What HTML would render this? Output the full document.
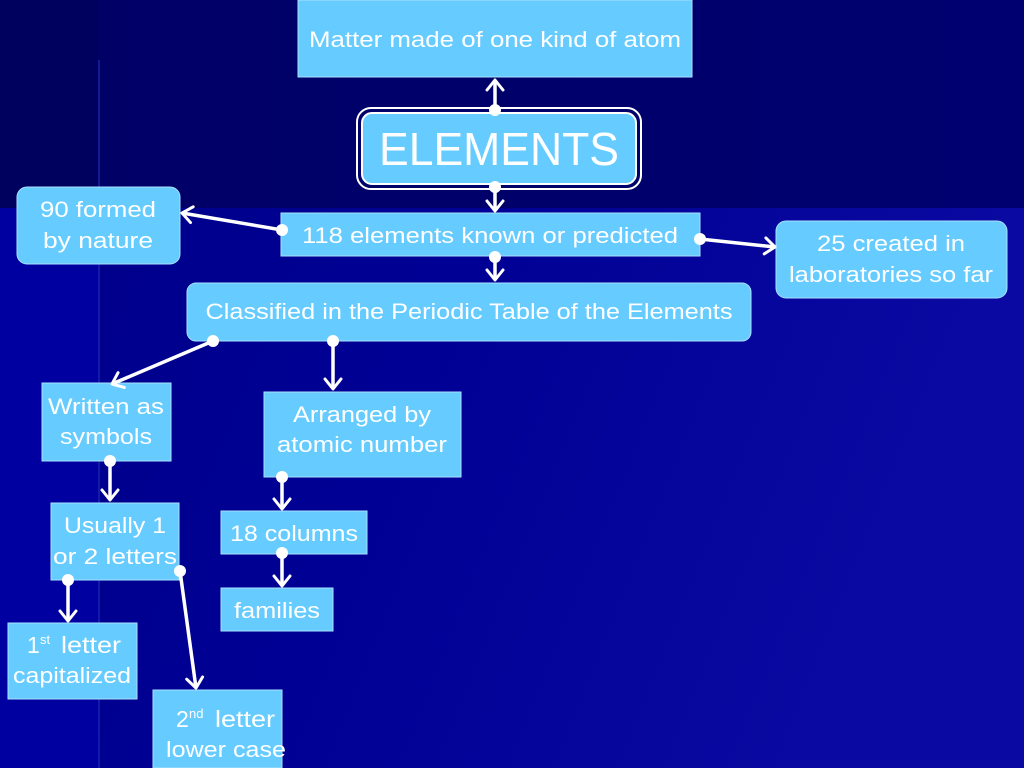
<!DOCTYPE html>
<html><head><meta charset="utf-8"><style>
html,body{margin:0;padding:0;width:1024px;height:768px;overflow:hidden;background:#000080}
svg{display:block}
text{font-family:"Liberation Sans",sans-serif;fill:#fff}
</style></head><body>
<svg width="1024" height="768" viewBox="0 0 1024 768" xmlns="http://www.w3.org/2000/svg">
<defs>
<linearGradient id="bot" x1="0" y1="0" x2="1" y2="0.3">
<stop offset="0" stop-color="#000088"/><stop offset="0.5" stop-color="#000094"/><stop offset="1" stop-color="#0a0aa2"/></linearGradient>
<linearGradient id="top" x1="0" y1="0" x2="1" y2="0">
<stop offset="0" stop-color="#000066"/><stop offset="1" stop-color="#000070"/></linearGradient>
<marker id="ah" viewBox="0 0 20 20" refX="17" refY="10" markerWidth="20" markerHeight="20" markerUnits="userSpaceOnUse" orient="auto">
<path d="M7,2 L17,10 L7,18" fill="none" stroke="#fff" stroke-width="3" stroke-linecap="round" stroke-linejoin="round"/></marker>
</defs>
<rect x="0" y="0" width="1024" height="768" fill="url(#bot)"/>
<rect x="0" y="0" width="1024" height="208" fill="url(#top)"/>
<rect x="0" y="208" width="98" height="560" fill="#0000a0"/>
<rect x="0" y="0" width="98" height="208" fill="#00005e"/>
<line x1="99" y1="60" x2="99" y2="768" stroke="#3344dd" stroke-width="1.5" opacity="0.5"/>

<g fill="#66ccff" stroke="#a8e0ff" stroke-width="1">
<rect x="298" y="0" width="394" height="77"/>
<rect x="281" y="213" width="419" height="43"/>
<rect x="17" y="187" width="163" height="77" rx="10"/>
<rect x="776" y="221" width="231" height="77" rx="10"/>
<rect x="187" y="283" width="564" height="58" rx="9"/>
<rect x="42" y="383" width="129" height="78"/>
<rect x="264" y="392" width="197" height="85"/>
<rect x="51" y="503" width="128" height="77"/>
<rect x="221" y="511" width="146" height="43"/>
<rect x="221" y="588" width="112" height="43"/>
<rect x="8" y="623" width="129" height="76"/>
<rect x="153" y="690" width="129" height="78"/>
</g>
<rect x="357" y="108" width="284" height="81" rx="14" fill="none" stroke="#fff" stroke-width="2"/>
<rect x="362" y="113" width="274" height="71" rx="10" fill="#66ccff" stroke="#fff" stroke-width="2"/>

<g font-size="22">
<text x="495" y="47" text-anchor="middle" textLength="372" lengthAdjust="spacingAndGlyphs">Matter made of one kind of atom</text>
<text x="499" y="165" text-anchor="middle" font-size="46" textLength="240" lengthAdjust="spacingAndGlyphs">ELEMENTS</text>
<text x="490" y="243" text-anchor="middle" textLength="376" lengthAdjust="spacingAndGlyphs">118 elements known or predicted</text>
<text x="98" y="217" text-anchor="middle" textLength="116" lengthAdjust="spacingAndGlyphs">90 formed</text>
<text x="98" y="248" text-anchor="middle" textLength="110" lengthAdjust="spacingAndGlyphs">by nature</text>
<text x="891" y="251" text-anchor="middle" textLength="148" lengthAdjust="spacingAndGlyphs">25 created in</text>
<text x="891" y="282" text-anchor="middle" textLength="204" lengthAdjust="spacingAndGlyphs">laboratories so far</text>
<text x="469" y="319" text-anchor="middle" textLength="527" lengthAdjust="spacingAndGlyphs">Classified in the Periodic Table of the Elements</text>
<text x="106" y="414" text-anchor="middle" textLength="116" lengthAdjust="spacingAndGlyphs">Written as</text>
<text x="106" y="444" text-anchor="middle" textLength="92" lengthAdjust="spacingAndGlyphs">symbols</text>
<text x="362" y="422" text-anchor="middle" textLength="138" lengthAdjust="spacingAndGlyphs">Arranged by</text>
<text x="362" y="452" text-anchor="middle" textLength="170" lengthAdjust="spacingAndGlyphs">atomic number</text>
<text x="115" y="533" text-anchor="middle" textLength="102" lengthAdjust="spacingAndGlyphs">Usually 1</text>
<text x="115" y="564" text-anchor="middle" textLength="124" lengthAdjust="spacingAndGlyphs">or 2 letters</text>
<text x="294" y="541" text-anchor="middle" textLength="128" lengthAdjust="spacingAndGlyphs">18 columns</text>
<text x="277" y="618" text-anchor="middle" textLength="86" lengthAdjust="spacingAndGlyphs">families</text>
<text x="27" y="653" font-size="23">1</text>
<text x="40" y="644" font-size="13">st</text>
<text x="61" y="653" font-size="23" textLength="60" lengthAdjust="spacingAndGlyphs">letter</text>
<text x="72" y="683" text-anchor="middle" textLength="118" lengthAdjust="spacingAndGlyphs">capitalized</text>
<text x="176" y="727" font-size="23">2</text>
<text x="189" y="718" font-size="13">nd</text>
<text x="215" y="727" font-size="23" textLength="60" lengthAdjust="spacingAndGlyphs">letter</text>
<text x="226" y="757" text-anchor="middle" textLength="120" lengthAdjust="spacingAndGlyphs">lower case</text>
</g>

<g stroke="#fff" stroke-width="3.5" fill="none" marker-end="url(#ah)">
<line x1="495" y1="110" x2="495" y2="80"/>
<line x1="495" y1="187" x2="495" y2="211"/>
<line x1="282" y1="230" x2="182" y2="213"/>
<line x1="700" y1="239" x2="775" y2="247"/>
<line x1="495" y1="257" x2="495" y2="280"/>
<line x1="213" y1="341" x2="112" y2="384"/>
<line x1="333" y1="341" x2="333" y2="389"/>
<line x1="110" y1="461" x2="110" y2="500"/>
<line x1="282" y1="477" x2="282" y2="509"/>
<line x1="282" y1="553" x2="282" y2="586"/>
<line x1="68" y1="580" x2="68" y2="621"/>
<line x1="180" y1="571" x2="196" y2="688"/>
</g>
<g fill="#fff">
<circle cx="495" cy="110" r="6"/><circle cx="495" cy="187" r="6"/>
<circle cx="282" cy="230" r="6"/><circle cx="700" cy="239" r="6"/>
<circle cx="495" cy="257" r="6"/><circle cx="213" cy="341" r="6"/>
<circle cx="333" cy="341" r="6"/><circle cx="110" cy="461" r="6"/>
<circle cx="282" cy="477" r="6"/><circle cx="282" cy="553" r="6"/>
<circle cx="68" cy="580" r="6"/><circle cx="180" cy="571" r="6"/>
</g>
</svg>
</body></html>
